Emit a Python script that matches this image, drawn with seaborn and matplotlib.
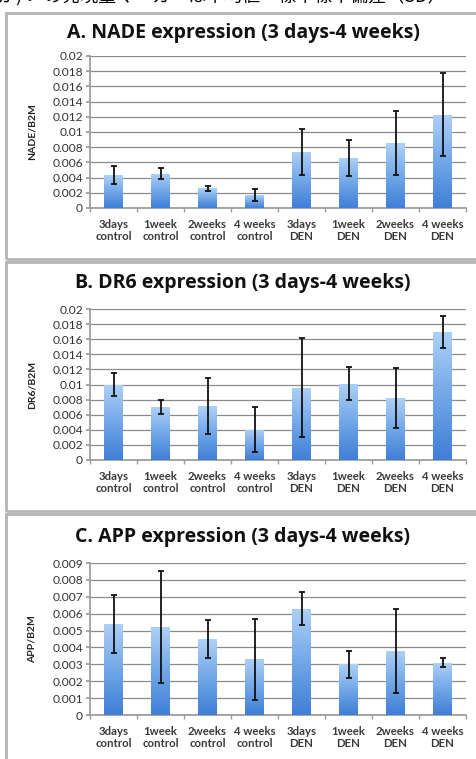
import numpy as np
import pandas as pd
import seaborn as sns
import matplotlib.pyplot as plt
from matplotlib.patches import Rectangle
from matplotlib.colors import LinearSegmentedColormap

groups = ["3days\ncontrol", "1week\ncontrol", "2weeks\ncontrol", "4 weeks\ncontrol",
          "3days\nDEN", "1week\nDEN", "2weeks\nDEN", "4 weeks\nDEN"]

nade_mean = [0.0043, 0.0045, 0.0026, 0.0017, 0.0074, 0.0066, 0.0085, 0.0123]
nade_err = [0.0012, 0.0007, 0.0003, 0.0008, 0.0030, 0.0024, 0.0042, 0.0054]

dr6_mean = [0.0100, 0.0070, 0.0071, 0.0040, 0.0096, 0.0101, 0.0082, 0.0170]
dr6_err = [0.0015, 0.0009, 0.0037, 0.0030, 0.0065, 0.0022, 0.0040, 0.0021]

app_mean = [0.0054, 0.0052, 0.0045, 0.0033, 0.0063, 0.0030, 0.0038, 0.0031]
app_err = [0.0017, 0.0033, 0.0011, 0.0024, 0.0010, 0.0008, 0.0025, 0.00026]

panels = [
    ("A. NADE expression (3 days-4 weeks)", "NADE/B2M", nade_mean, nade_err, 0.02, 0.002),
    ("B. DR6 expression (3 days-4 weeks)", "DR6/B2M", dr6_mean, dr6_err, 0.02, 0.002),
    ("C. APP expression (3 days-4 weeks)", "APP/B2M", app_mean, app_err, 0.009, 0.001),
]

sns.set_theme(style="white")
plt.rcParams['font.family'] = ['Lato', 'Noto Sans CJK JP', 'DejaVu Sans']

W, H = 476, 759
fig = plt.figure(figsize=(W / 100, H / 100), dpi=100)
fig.patch.set_facecolor("white")

def fx(px):
    return px / W

def fy(py):
    return 1 - py / H

# caption line of the page, cut at the top edge as in the source scan
fig.text(fx(-2), fy(-4), "が)ゞ の発現量マーカーは平均値・標準標準偏差（SD）",
         fontsize=13, ha="left", va="center", color="black",
         family=['Noto Sans CJK JP', 'DejaVu Sans'])

# panel frames (top, bottom in pixels)
frames = [(13, 259), (262, 511), (514, 770)]
for top, bot in frames:
    fig.add_artist(Rectangle((fx(6), fy(bot)), fx(480) - fx(6), (bot - top) / H,
                             transform=fig.transFigure, fill=False,
                             edgecolor="#b4b4b4", linewidth=2))

# axes positions: (y top px, y zero px, title y)
ax_pos = [(56, 208, 33), (309, 460, 283), (563, 715, 537)]
grad_cmap = LinearSegmentedColormap.from_list("bar", ["#3f7fd6", "#72a7e8", "#aed0f6"])

for (title, ylab, means, errs, ymax, step), (ytop, y0, ty) in zip(panels, ax_pos):
    ax = fig.add_axes([fx(90), fy(y0), fx(466) - fx(90), (y0 - ytop) / H])
    df = pd.DataFrame({"group": groups, "value": means})
    sns.barplot(data=df, x="group", y="value", ax=ax, color="#5a93df",
                width=0.4, errorbar=None, zorder=2)
    ax.errorbar(np.arange(len(groups)), means, yerr=errs, fmt="none",
                ecolor="#111111", elinewidth=1.3, capsize=1.9, capthick=1.3, zorder=4)

    # vertical gradient fill on each bar
    grad = np.linspace(0, 1, 100).reshape(-1, 1)
    for p in ax.patches:
        x0, w, h = p.get_x(), p.get_width(), p.get_height()
        im = ax.imshow(grad, extent=[x0, x0 + w, 0, h], origin="lower",
                       aspect="auto", cmap=grad_cmap, zorder=3)
        im.set_clip_path(p)
        p.set_facecolor("none")
        p.set_edgecolor("none")

    ax.set_xlim(-0.5, len(groups) - 0.5)
    ax.set_ylim(0, ymax)
    ticks = np.round(np.arange(0, ymax + step / 2, step), 4)
    ax.set_yticks(ticks)
    ax.set_yticklabels(["0"] + [f"{t:g}" for t in ticks[1:]])
    ax.yaxis.grid(True, color="#8c8c8c", linewidth=0.9)
    ax.set_axisbelow(True)
    for s in ["top", "right"]:
        ax.spines[s].set_visible(False)
    ax.spines["left"].set_color("#9a9a9a")
    ax.spines["bottom"].set_color("#9a9a9a")
    ax.tick_params(axis="y", length=3, color="#9a9a9a", labelsize=8.6,
                   labelcolor="#333333", pad=2, left=True)
    ax.tick_params(axis="x", length=0, labelsize=8.2, labelcolor="#3a3a3a", pad=8)
    for lab in ax.get_xticklabels():
        lab.set_fontweight("bold")
        lab.set_linespacing(1.1)
    ax.set_xticks(np.arange(-0.5, len(groups)), minor=True)
    ax.tick_params(axis="x", which="minor", length=3, color="#9a9a9a", bottom=True)
    ax.set_xlabel("")
    ax.set_ylabel("")
    fig.text(fx(32), fy((ytop + y0) / 2), ylab, rotation=90, ha="center", va="center",
             fontsize=7.5, fontweight="bold", color="#222222")
    fig.text(fx(243), fy(ty), title, ha="center", va="center",
             fontsize=14, fontweight="bold", color="#111111",
             family=['Open Sans', 'DejaVu Sans'])

fig.savefig("out.png", dpi=100, facecolor="white")
